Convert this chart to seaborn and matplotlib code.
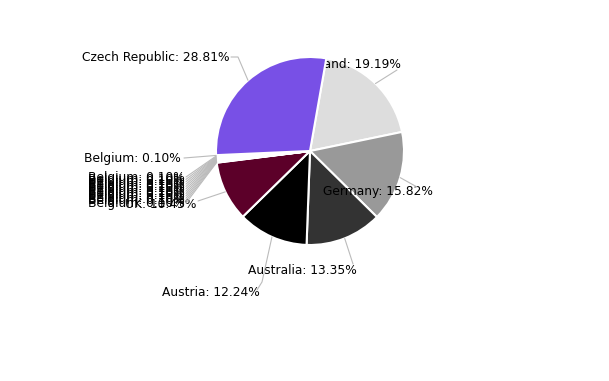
import numpy as np
import matplotlib
matplotlib.use("Agg")
import matplotlib.pyplot as plt
import seaborn as sns

sns.set_theme(style="white")
plt.rcParams['font.family'] = ['DejaVu Sans']

# ---- data ----
countries = ["Finland", "Germany", "Australia", "Austria", "UK"] + ["Belgium"] * 13 + ["Czech Republic"]
values = [19.19, 15.82, 13.35, 12.24, 10.45] + [0.10] * 13 + [28.81]
pct_labels = ["19.19%", "15.82%", "13.35%", "12.24%", "10.45%"] + ["0.10%"] * 13 + ["28.81%"]
colors = ["#dddddd", "#999999", "#333333", "#000000", "#5c0029"] + \
         ["#f4f4f4", "#eef6ee", "#f8f8f8", "#e8f4e8", "#f2f2f2", "#eef8ee", "#fafafa",
          "#ecf4ec", "#f6f6f6", "#f0f8f0", "#f4f4f4", "#eef6ee", "#f8f8f8"] + ["#7850e6"]

W, H = 609, 381
fig = plt.figure(figsize=(W / 100, H / 100), dpi=100)
cx, cy, R = 310, 151, 94
ax = fig.add_axes([(cx - R) / W, 1 - (cy + R) / H, 2 * R / W, 2 * R / H])

wedges, _ = ax.pie(values, colors=colors, startangle=80, counterclock=False, radius=1.0,
                   wedgeprops=dict(edgecolor="white", linewidth=1.5))
ax.set_xlim(-1, 1)
ax.set_ylim(-1, 1)
ax.set_aspect("equal")
ax.axis("off")
# Czech slice on top of the Finland label
wedges[-1].set_zorder(3)


def px2fig(x, y):
    return x / W, 1 - y / H


def edge_point(w):
    ang = np.deg2rad((w.theta1 + w.theta2) / 2)
    return cx + R * np.cos(ang), cy - R * np.sin(ang)


# ---- label layout (pixel positions) ----
layout = {
    0: (401, 65, "right", [(397, 70)], 2),
    1: (323, 192, "left", [(417, 187)], 4),
    2: (248, 270, "left", [(353, 264)], 4),
    3: (162, 292, "left", [(262, 282), (257, 290)], 4),
    4: (196, 204, "right", [(198, 201)], 4),
    17: (84, 159, "left", [(184, 158)], 4),
    18: (229, 58, "right", [(238, 57), (231, 57)], 4),
}
stack_y = np.linspace(203, 177, 12)
for i in range(5, 17):
    layout[i] = (88, stack_y[i - 5], "left", [(186, stack_y[i - 5])], 4)

for i, w in enumerate(wedges):
    tx, ty, ha, pts, z = layout[i]
    ex, ey = edge_point(w)
    xs = [ex] + [p[0] for p in pts]
    ys = [ey] + [p[1] for p in pts]
    fx = [x / W for x in xs]
    fy = [1 - y / H for y in ys]
    fig.add_artist(matplotlib.lines.Line2D(fx, fy, color="#bbbbbb", lw=0.8, zorder=1))
    fxx, fyy = px2fig(tx, ty)
    ax.text(fxx, fyy, f"{countries[i]}: {pct_labels[i]}", transform=fig.transFigure,
            ha=ha, va="center", fontsize=8.8, color="#000000", zorder=z)

fig.savefig("out.png", dpi=100, facecolor="white")
